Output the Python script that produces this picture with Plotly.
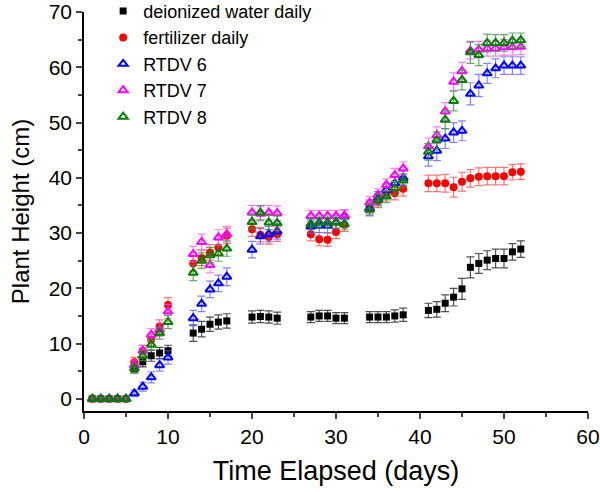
import plotly.graph_objects as go

# ---- data ----
days = [1, 2, 3, 4, 5, 6, 7, 8, 9, 10, 13, 14, 15, 16, 17, 20, 21, 22, 23,
        27, 28, 29, 30, 31, 34, 35, 36, 37, 38,
        41, 42, 43, 44, 45, 46, 47, 48, 49, 50, 51, 52]

water = [0, 0, 0, 0, 0, 5.5, 6.7, 7.8, 8.3, 8.7, 11.9, 12.6, 13.5, 13.9, 14.1,
         14.8, 14.9, 14.8, 14.6, 14.8, 15.0, 15.0, 14.6, 14.6,
         14.8, 14.8, 14.8, 15.0, 15.2,
         16.0, 16.2, 17.3, 18.4, 19.9, 23.8, 24.5, 25.1, 25.4, 25.4, 26.6, 27.1]
water_err = [0.3, 0.3, 0.3, 0.3, 0.3, 0.8, 0.9, 1.0, 1.0, 1.0, 1.5, 1.4, 1.3, 1.3, 1.3,
             1.1, 1.1, 1.1, 1.1, 1.0, 1.0, 1.0, 1.0, 1.0,
             1.0, 1.0, 1.0, 1.1, 1.2,
             1.3, 1.4, 1.5, 1.6, 1.9, 1.9, 1.8, 1.7, 1.7, 1.7, 1.5, 1.5]

fert = [0, 0, 0, 0, 0, 6.6, 8.7, 10.7, 13.1, 17.0, 24.5, 25.5, 26.5, 27.4, 29.5,
        30.7, 29.7, 29.3, 29.8, 29.8, 28.9, 28.8, 30.2, 31.5,
        34.8, 35.8, 37.0, 37.2, 38.0,
        39.0, 39.0, 39.0, 38.3, 39.3, 39.9, 40.2, 40.3, 40.3, 40.3, 41.0, 41.1]
fert_err = [0.3, 0.3, 0.3, 0.3, 0.3, 0.9, 1.0, 1.0, 1.2, 1.3, 1.4, 1.4, 1.4, 1.4, 1.4,
            1.3, 1.3, 1.3, 1.3, 1.2, 1.2, 1.2, 1.2, 1.2,
            1.2, 1.2, 1.2, 1.2, 1.3,
            1.5, 1.5, 1.6, 1.8, 1.7, 1.6, 1.6, 1.6, 1.6, 1.6, 1.4, 1.4]

rtdv6 = [0, 0, 0, 0, 0, 1.0, 2.2, 3.9, 6.1, 7.5, 14.6, 17.2, 19.8, 20.9, 22.1,
         27.0, 29.4, 29.8, 30.3, 31.2, 31.3, 31.3, 32.0, 33.0,
         34.5, 36.3, 37.8, 39.0, 40.0,
         43.9, 44.9, 47.1, 48.2, 48.5, 55.2, 56.7, 58.9, 59.8, 60.3, 60.3, 60.3]
rtdv6_err = [0.3, 0.3, 0.3, 0.3, 0.3, 0.6, 0.8, 1.0, 1.1, 1.2, 1.4, 1.4, 1.5, 1.5, 1.6,
             1.5, 1.4, 1.4, 1.4, 1.2, 1.2, 1.2, 1.2, 1.2,
             1.2, 1.2, 1.2, 1.2, 1.3,
             1.8, 1.8, 1.8, 1.8, 1.8, 2.0, 2.0, 1.8, 1.7, 1.6, 1.6, 1.6]

rtdv7 = [0, 0, 0, 0, 0, 6.1, 8.7, 11.6, 12.5, 15.8, 26.2, 28.4, 24.2, 29.2, 29.8,
         33.7, 33.5, 33.7, 33.6, 33.1, 33.1, 33.1, 33.1, 33.2,
         35.5, 36.9, 38.7, 40.5, 41.7,
         45.7, 47.7, 52.0, 57.4, 59.3, 63.0, 63.2, 63.4, 63.4, 63.6, 63.6, 63.7]
rtdv7_err = [0.3, 0.3, 0.3, 0.3, 0.3, 0.9, 1.0, 1.1, 1.2, 1.3, 1.4, 1.4, 1.4, 1.4, 1.4,
             1.3, 1.3, 1.3, 1.3, 1.0, 1.0, 1.0, 1.0, 1.0,
             1.1, 1.1, 1.1, 1.2, 1.2,
             1.5, 1.5, 1.6, 1.6, 1.6, 1.5, 1.5, 1.4, 1.4, 1.4, 1.4, 1.4]

rtdv8 = [0, 0, 0, 0, 0, 5.5, 7.8, 9.8, 11.9, 13.9, 22.8, 25.0, 26.0, 26.3, 27.2,
         32.0, 33.7, 31.9, 31.8, 31.6, 31.9, 31.9, 31.9, 31.6,
         34.2, 36.0, 36.6, 38.1, 39.5,
         44.7, 46.8, 50.5, 53.9, 57.7, 62.7, 62.2, 64.4, 64.4, 64.4, 64.8, 64.9]
rtdv8_err = [0.3, 0.3, 0.3, 0.3, 0.3, 0.8, 0.9, 1.0, 1.1, 1.2, 1.4, 1.4, 1.4, 1.4, 1.4,
             1.3, 1.3, 1.3, 1.3, 1.0, 1.0, 1.0, 1.0, 1.0,
             1.1, 1.1, 1.1, 1.2, 1.2,
             1.5, 1.5, 1.6, 1.8, 1.8, 2.0, 1.9, 1.6, 1.5, 1.5, 1.4, 1.3]

series = [
    ("deionized water daily", water, water_err, "black", "rgba(60,60,60,0.9)", "square", 7),
    ("fertilizer daily", fert, fert_err, "red", "rgba(255,80,80,0.8)", "circle", 8),
    ("RTDV 6", rtdv6, rtdv6_err, "blue", "rgba(90,90,255,0.75)", "triangle-up-open", 8),
    ("RTDV 7", rtdv7, rtdv7_err, "magenta", "rgba(255,80,255,0.75)", "triangle-up-open", 8),
    ("RTDV 8", rtdv8, rtdv8_err, "green", "rgba(60,150,60,0.8)", "triangle-up-open", 8),
]

FONT = "Liberation Sans, Arial, sans-serif"

fig = go.Figure()
for name, vals, errs, col, ecol, sym, sz in series:
    fig.add_trace(go.Scatter(
        x=days, y=vals, name=name, mode="markers",
        marker=dict(symbol=sym, color=col, size=sz, line=dict(color=col, width=2 if "open" in sym else 0)),
        error_y=dict(type="data", array=errs, visible=True, color=ecol, thickness=1.2, width=4),
    ))

fig.update_layout(
    width=600, height=492,
    margin=dict(l=84, r=12, t=12, b=81, autoexpand=False),
    paper_bgcolor="white", plot_bgcolor="white",
    font=dict(family=FONT, size=20, color="black"),
    showlegend=True,
    legend=dict(x=0.038, y=1.048, xanchor="left", yanchor="top",
                bgcolor="rgba(0,0,0,0)", font=dict(size=18, family=FONT),
                itemwidth=30, tracegroupgap=0),
    xaxis=dict(range=[0, 60], dtick=10, tick0=0, ticks="outside", ticklen=6, tickwidth=1.5,
               showline=True, linecolor="black", linewidth=1.5, showgrid=False, zeroline=False,
               minor=dict(dtick=5, ticks="outside", ticklen=4, tickwidth=1.5, showgrid=False),
               title=dict(text="Time Elapsed (days)", font=dict(size=27, family=FONT), standoff=14),
               tickfont=dict(size=21, family=FONT), ticklabeloverflow="allow"),
    yaxis=dict(range=[-2.2, 70], dtick=10, tick0=0, ticks="outside", ticklen=6, tickwidth=1.5,
               showline=True, linecolor="black", linewidth=1.5, showgrid=False, zeroline=False,
               minor=dict(dtick=5, ticks="outside", ticklen=4, tickwidth=1.5, showgrid=False),
               title=dict(text="Plant Height (cm)", font=dict(size=24, family=FONT), standoff=12),
               tickfont=dict(size=21, family=FONT), ticklabeloverflow="allow"),
)

# remove the default 8px page margin so the figure sits at the window's top-left corner
fig.write_html("out.html", config={"displayModeBar": False},
               post_script="document.body.style.margin='0px';")
